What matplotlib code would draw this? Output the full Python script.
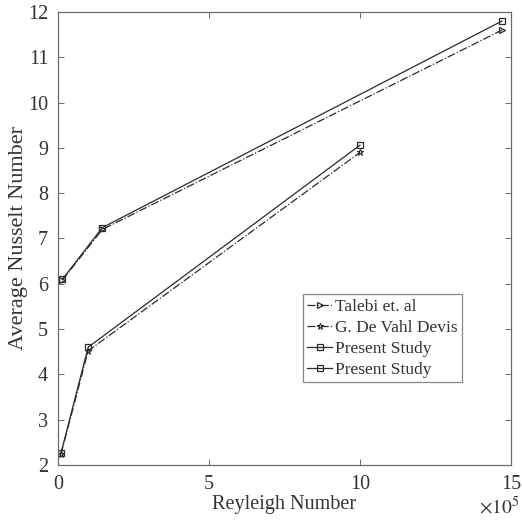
import matplotlib
matplotlib.use("Agg")
import matplotlib.pyplot as plt
import numpy as np

plt.rcParams['font.family'] = ['Liberation Serif', 'DejaVu Serif']
plt.rcParams['mathtext.fontset'] = 'stix'

# Data (Rayleigh number, average Nusselt number)
ra_upper = np.array([1.47e4, 1.47e5, 1.47e6])
nu_talebi = [6.08, 7.20, 11.60]
nu_present_upper = [6.10, 7.24, 11.80]

ra_lower = np.array([1e4, 1e5, 1e6])
nu_devahl = [2.24, 4.52, 8.90]
nu_present_lower = [2.26, 4.60, 9.06]

labels = ["Talebi et. al", "G. De Vahl Devis", "Present Study", "Present Study"]
xticks = [0, 5, 10, 15]
yticks = list(range(2, 13))

scale = 1e5
line_col = '#2a2a2a'
axis_col = '#6a6a6a'
text_col = '#333333'

fig = plt.figure(figsize=(5.22, 5.21), dpi=100)
ax = fig.add_axes([0.111, 0.1075, 0.868, 0.8695])

ax.plot(ra_upper / scale, nu_talebi, linestyle='-.', color=line_col, lw=0.9,
        marker='>', markersize=5, markerfacecolor='none', markeredgewidth=0.9, label=labels[0])
ax.plot(ra_lower / scale, nu_devahl, linestyle='-.', color=line_col, lw=0.9,
        marker='*', markersize=5, markerfacecolor='none', markeredgewidth=0.8, label=labels[1])
ax.plot(ra_upper / scale, nu_present_upper, linestyle='-', color=line_col, lw=0.9,
        marker='s', markersize=4, markerfacecolor='none', markeredgewidth=0.9, label=labels[2])
ax.plot(ra_lower / scale, nu_present_lower, linestyle='-', color=line_col, lw=0.9,
        marker='s', markersize=4, markerfacecolor='none', markeredgewidth=0.9, label=labels[3])

ax.set_xlim(0, 15)
ax.set_ylim(2, 12)
ax.set_xticks(xticks)
ax.set_yticks(yticks)
ax.tick_params(direction='in', length=4, width=0.7, colors=axis_col, labelcolor=text_col,
               labelsize=14.5, top=True, right=True, pad=7)
for s in ax.spines.values():
    s.set_color(axis_col)
    s.set_linewidth(0.9)

ax.set_xlabel("Reyleigh Number", fontsize=14.5, color=text_col, labelpad=1)
ax.set_ylabel("Average Nusselt Number", fontsize=16, color=text_col, labelpad=0)

fig.text(0.995, 0.028, r"$\times 10^{5}$", fontsize=14, color=text_col, ha='right', va='center')

leg = ax.legend(loc='lower left', bbox_to_anchor=(0.541, 0.183), fontsize=12.5,
                frameon=True, fancybox=False, edgecolor=axis_col, handlelength=1.4,
                handletextpad=0.2, borderpad=0.25, labelspacing=0.28, borderaxespad=0)
leg.get_frame().set_linewidth(0.9)
for t in leg.get_texts():
    t.set_color(text_col)

fig.savefig("out.png", dpi=100)
